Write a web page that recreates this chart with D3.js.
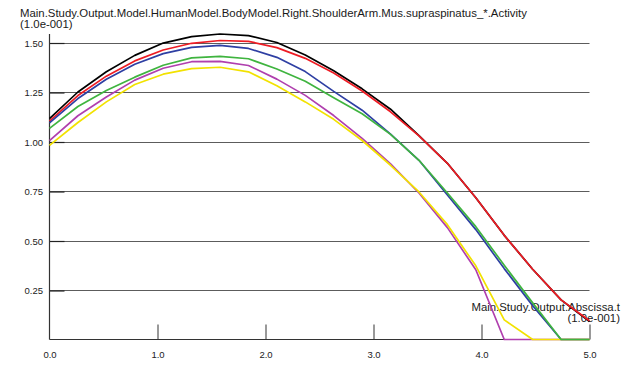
<!DOCTYPE html>
<html>
<head>
<meta charset="utf-8">
<script src="https://cdn.jsdelivr.net/npm/d3@7"></script>
<style>
  html, body { margin: 0; padding: 0; background: #fff; }
  svg { display: block; }
  text { font-family: "Liberation Sans", Arial, Helvetica, sans-serif; }
</style>
</head>
<body>
<svg id="chart" width="622" height="367"></svg>
<script>
// Time samples of the study (20 steps over 0..5, unit 1.0e-001)
const times = d3.range(20).map(i => i * 5 / 19);

// Muscle activity of the supraspinatus elements (unit 1.0e-001)
const actBlack   = [1.116, 1.250, 1.352, 1.435, 1.497, 1.530, 1.543, 1.535, 1.500, 1.437, 1.357, 1.266, 1.163, 1.030, 0.890, 0.716, 0.526, 0.355, 0.200, 0.090];
const actRed     = [1.103, 1.232, 1.330, 1.407, 1.462, 1.496, 1.510, 1.506, 1.474, 1.420, 1.346, 1.255, 1.150, 1.028, 0.890, 0.716, 0.526, 0.355, 0.200, 0.095];
const actBlue    = [1.094, 1.217, 1.314, 1.390, 1.444, 1.475, 1.485, 1.470, 1.425, 1.353, 1.253, 1.158, 1.037, 0.905, 0.730, 0.555, 0.358, 0.171, 0, 0];
const actGreen   = [1.066, 1.177, 1.258, 1.325, 1.385, 1.422, 1.430, 1.418, 1.366, 1.304, 1.221, 1.140, 1.036, 0.905, 0.740, 0.570, 0.375, 0.185, 0, 0];
const actMagenta = [1.004, 1.130, 1.225, 1.310, 1.370, 1.403, 1.405, 1.384, 1.315, 1.233, 1.131, 1.016, 0.887, 0.740, 0.565, 0.352, 0, 0, 0, 0];
const actYellow  = [0.980, 1.096, 1.200, 1.288, 1.340, 1.368, 1.375, 1.352, 1.281, 1.200, 1.112, 1.005, 0.880, 0.745, 0.580, 0.372, 0.099, 0, 0, 0];

// Drawing order: later entries are painted on top
const seriesColors = ["#000000", "#ee1c24", "#2e3fa3", "#b03fae", "#f2e200", "#3fb43f"];
const seriesValues = [actBlack, actRed, actBlue, actMagenta, actYellow, actGreen];

// Tick values and labels
const yTicks = [0.25, 0.50, 0.75, 1.00, 1.25, 1.50];
const xTicks = [0, 1, 2, 3, 4, 5];

const titleText = "Main.Study.Output.Model.HumanModel.BodyModel.Right.ShoulderArm.Mus.supraspinatus_*.Activity";
const yUnitText = "(1.0e-001)";
const xTitleText = "Main.Study.Output.Abscissa.t";
const xUnitText = "(1.0e-001)";

const svg = d3.select("#chart");

const x = d3.scaleLinear().domain([0, 5]).range([49.5, 589.5]);
const y = d3.scaleLinear().domain([0, 1.5]).range([339.5, 42.5]);
const yMax = d3.max(seriesValues.flat());

// Title lines
svg.append("text").attr("x", 20).attr("y", 16.5)
  .attr("font-size", 11.4).attr("fill", "#1a1a1a").text(titleText);
svg.append("text").attr("x", 20).attr("y", 27.5)
  .attr("font-size", 11.4).attr("fill", "#1a1a1a").text(yUnitText);

// Horizontal grid lines
svg.append("g").selectAll("line").data(yTicks).join("line")
  .attr("x1", x(0)).attr("x2", x(5))
  .attr("y1", d => Math.round(y(d)) + 0.5).attr("y2", d => Math.round(y(d)) + 0.5)
  .attr("stroke", "#5c5c5c").attr("stroke-width", 1.2);

// Y axis: ticks point inward, labels on the left
const yAxis = d3.axisLeft(y).tickValues(yTicks).tickSize(-15).tickPadding(22)
  .tickFormat(d3.format(".2f"));
const gy = svg.append("g").attr("transform", "translate(0,0.5)").call(yAxis);
gy.select(".domain").remove();
gy.selectAll(".tick line").attr("stroke", "#222").attr("stroke-width", 1.2)
  .attr("transform", `translate(${x(0)},0)`);
gy.selectAll(".tick text").attr("x", 43).attr("text-anchor", "end")
  .attr("font-size", 9.5).attr("fill", "#222")
  .attr("font-family", "'Liberation Sans', Arial, sans-serif");

// Y axis line
svg.append("line")
  .attr("x1", x(0)).attr("x2", x(0))
  .attr("y1", y(yMax)).attr("y2", y(0))
  .attr("stroke", "#333").attr("stroke-width", 1.2);

// X axis: baseline, upward ticks, labels below
const xAxis = d3.axisBottom(x).tickValues(xTicks).tickSize(-15).tickPadding(0)
  .tickFormat(d3.format(".1f"));
const gx = svg.append("g").attr("transform", `translate(0,${y(0)})`).call(xAxis);
gx.select(".domain").remove();
gx.selectAll(".tick line").attr("stroke", "#555").attr("stroke-width", 1.2)
  .filter(d => d === 0).remove();
gx.selectAll(".tick text").attr("y", 18.5).attr("dy", null)
  .attr("font-size", 9.5).attr("fill", "#222")
  .attr("font-family", "'Liberation Sans', Arial, sans-serif");

svg.append("line")
  .attr("x1", x(0)).attr("x2", x(5))
  .attr("y1", y(0)).attr("y2", y(0))
  .attr("stroke", "#333").attr("stroke-width", 1.2);

// Abscissa name, drawn beneath the curves
svg.append("text").attr("x", 620).attr("y", 311).attr("text-anchor", "end")
  .attr("font-size", 11.4).attr("fill", "#1a1a1a").text(xTitleText);
svg.append("text").attr("x", 620).attr("y", 321.5).attr("text-anchor", "end")
  .attr("font-size", 11.4).attr("fill", "#1a1a1a").text(xUnitText);

// Curves
const line = d3.line().x((d, i) => x(times[i])).y(d => y(d));
svg.append("g").selectAll("path")
  .data(seriesValues.map((v, k) => ({ v, c: seriesColors[k] })))
  .join("path")
  .attr("d", d => line(d.v))
  .attr("fill", "none")
  .attr("stroke", d => d.c)
  .attr("stroke-width", 1.7)
  .attr("stroke-linejoin", "round");
</script>
</body>
</html>
